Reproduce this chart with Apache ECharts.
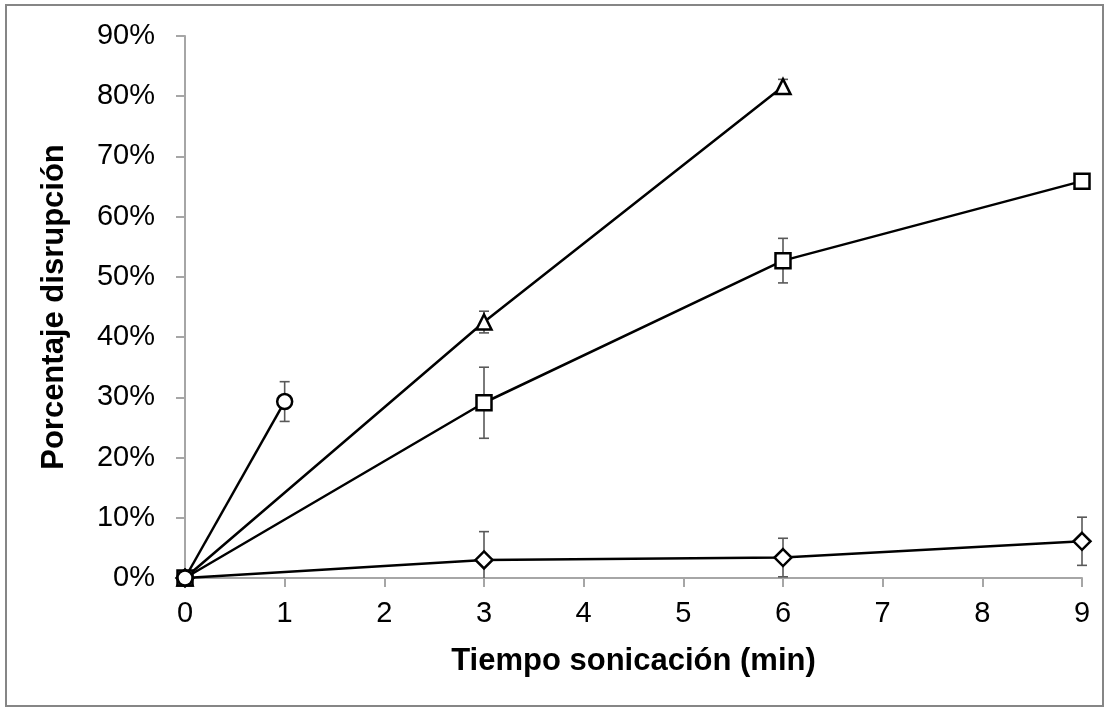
<!DOCTYPE html>
<html>
<head>
<meta charset="utf-8">
<script src="https://cdn.jsdelivr.net/npm/echarts@6/dist/echarts.min.js"></script>
<style>
html,body{margin:0;padding:0;background:#fff;}
#chart{width:1104px;height:707px;}
</style>
</head>
<body>
<div id="chart"></div>
<script>
// Data (percent values)
var xTicks = [0,1,2,3,4,5,6,7,8,9];
var timesCircle = [0, 1];
var circleVals = [0, 29.3];
var circleErr = [0, 3.3];

var timesTriangle = [0, 3, 6];
var triangleVals = [0, 42.5, 81.6];
var triangleErr = [0, 1.8, 1.2];

var timesSquare = [0, 3, 6, 9];
var squareVals = [0, 29.1, 52.7, 65.9];
var squareErr = [0, 5.9, 3.7, 0.4];

var timesDiamond = [0, 3, 6, 9];
var diamondVals = [0, 3.0, 3.4, 6.1];
var diamondErr = [0, 4.7, 3.2, 4.0];

function pts(xs, ys){ return xs.map(function(x,i){ return [x, ys[i]]; }); }
function errPts(xs, ys, es){ return xs.map(function(x,i){ return [x, ys[i]-es[i], ys[i]+es[i]]; }).filter(function(d,i){ return es[i] > 0; }); }

var FONT = 'Liberation Sans, Arial, sans-serif';

function errorSeries(data){
  return {
    type: 'custom',
    z: 1,
    silent: true,
    data: data,
    renderItem: function(params, api){
      var x = api.value(0), lo = api.value(1), hi = api.value(2);
      var clippedLo = lo < 0;
      var top = api.coord([x, hi]);
      var bot = api.coord([x, Math.max(lo, 0)]);
      var hw = 5;
      var children = [
        {type:'line', shape:{x1:top[0], y1:top[1], x2:bot[0], y2:bot[1]}, style:{stroke:'#595959', lineWidth:1.6}},
        {type:'line', shape:{x1:top[0]-hw, y1:top[1], x2:top[0]+hw, y2:top[1]}, style:{stroke:'#595959', lineWidth:1.6}}
      ];
      if (!clippedLo) {
        children.push({type:'line', shape:{x1:bot[0]-hw, y1:bot[1], x2:bot[0]+hw, y2:bot[1]}, style:{stroke:'#595959', lineWidth:1.6}});
      }
      return {type:'group', children: children};
    }
  };
}

function lineSeries(name, data, symbol, size, z){
  return {
    name: name,
    type: 'line',
    z: z,
    data: data,
    symbol: symbol,
    symbolSize: size,
    showAllSymbol: true,
    lineStyle: {color:'#000', width:2.5},
    itemStyle: {color:'#fff', borderColor:'#000', borderWidth:2.5},
    emphasis: {disabled:true},
    animation: false
  };
}

var chart = echarts.init(document.getElementById('chart'), null, {renderer:'canvas'});
chart.setOption({
  animation: false,
  backgroundColor: '#fff',
  graphic: [{
    type:'rect', silent:true, z:-10,
    shape:{x:6, y:5, width:1097, height:701},
    style:{fill:'none', stroke:'#868686', lineWidth:2}
  }],
  grid: {left:185, right:22, top:36, bottom:129},
  xAxis: {
    type:'value', min:0, max:9, interval:1,
    name:'Tiempo sonicación (min)', nameLocation:'middle', nameGap:68, nameMoveOverlap:false,
    nameTextStyle:{fontFamily:FONT, fontSize:31, fontWeight:'bold', color:'#000'},
    axisLine:{show:true, onZero:false, lineStyle:{color:'#a6a6a6', width:2}},
    axisTick:{show:true, length:9, lineStyle:{color:'#a6a6a6', width:2}},
    axisLabel:{fontFamily:FONT, fontSize:29, color:'#000', margin:21,
      formatter:function(v){ return xTicks.indexOf(v) >= 0 ? String(v) : ''; }},
    splitLine:{show:false}
  },
  yAxis: {
    type:'value', min:0, max:90, interval:10,
    name:'Porcentaje disrupción', nameLocation:'middle', nameGap:115, nameRotate:90, nameMoveOverlap:false,
    nameTextStyle:{fontFamily:FONT, fontSize:31, fontWeight:'bold', color:'#000'},
    axisLine:{show:true, lineStyle:{color:'#a6a6a6', width:2}},
    axisTick:{show:true, length:9, lineStyle:{color:'#a6a6a6', width:2}},
    axisLabel:{fontFamily:FONT, fontSize:29, color:'#000', margin:30, formatter:'{value}%'},
    splitLine:{show:false}
  },
  series: [
    errorSeries(errPts(timesDiamond, diamondVals, diamondErr)),
    errorSeries(errPts(timesTriangle, triangleVals, triangleErr)),
    errorSeries(errPts(timesSquare, squareVals, squareErr)),
    errorSeries(errPts(timesCircle, circleVals, circleErr)),
    lineSeries('diamond', pts(timesDiamond, diamondVals), 'diamond', 17, 3),
    lineSeries('triangle', pts(timesTriangle, triangleVals), 'triangle', 15, 4),
    lineSeries('square', pts(timesSquare, squareVals), 'rect', 15, 5),
    lineSeries('circle', pts(timesCircle, circleVals), 'circle', 15, 6)
  ]
});
</script>
</body>
</html>
